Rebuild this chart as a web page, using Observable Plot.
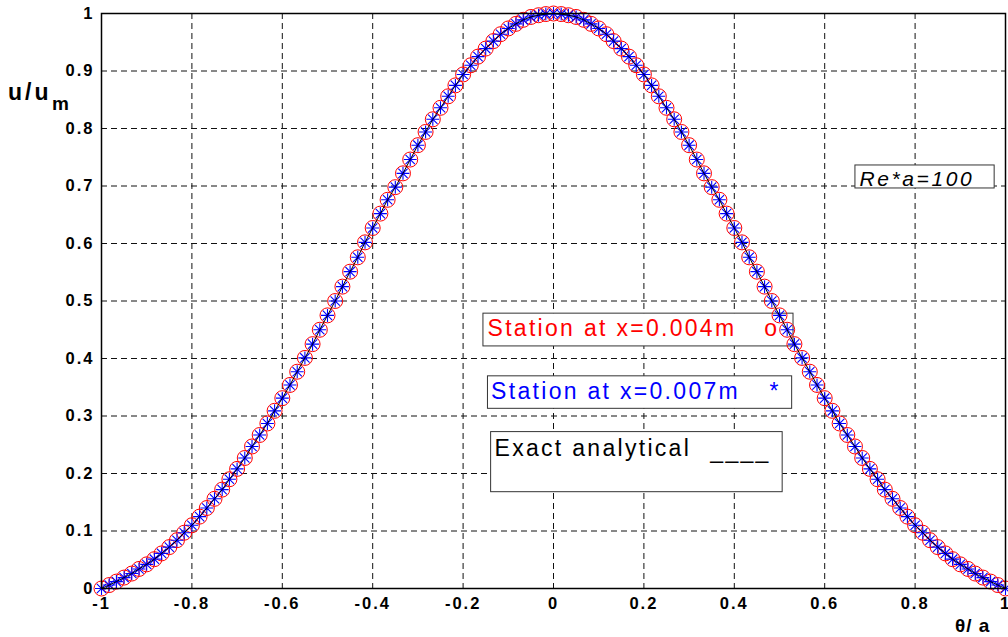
<!DOCTYPE html>
<html>
<head>
<meta charset="utf-8">
<script src="https://cdn.jsdelivr.net/npm/d3@7"></script>
<script src="https://cdn.jsdelivr.net/npm/@observablehq/plot@0.6"></script>
<style>
  body { margin: 0; background: #fff; }
  #chart { width: 1008px; height: 637px; overflow: hidden; }
</style>
</head>
<body>
<div id="chart"></div>
<script>
// θ/a positions of the samples
const theta = [
  -1, -0.983, -0.967, -0.95, -0.933, -0.917, -0.9, -0.883, -0.867, -0.85, -0.833, -0.817,
  -0.8, -0.783, -0.767, -0.75, -0.733, -0.717, -0.7, -0.683, -0.667, -0.65, -0.633, -0.617,
  -0.6, -0.583, -0.567, -0.55, -0.533, -0.517, -0.5, -0.483, -0.467, -0.45, -0.433, -0.417,
  -0.4, -0.383, -0.367, -0.35, -0.333, -0.317, -0.3, -0.283, -0.267, -0.25, -0.233, -0.217,
  -0.2, -0.183, -0.167, -0.15, -0.133, -0.117, -0.1, -0.083, -0.067, -0.05, -0.033, -0.017,
  0,
  0.017, 0.033, 0.05, 0.067, 0.083, 0.1, 0.117, 0.133, 0.15, 0.167, 0.183, 0.2,
  0.217, 0.233, 0.25, 0.267, 0.283, 0.3, 0.317, 0.333, 0.35, 0.367, 0.383, 0.4,
  0.417, 0.433, 0.45, 0.467, 0.483, 0.5, 0.517, 0.533, 0.55, 0.567, 0.583, 0.6,
  0.617, 0.633, 0.65, 0.667, 0.683, 0.7, 0.717, 0.733, 0.75, 0.767, 0.783, 0.8,
  0.817, 0.833, 0.85, 0.867, 0.883, 0.9, 0.917, 0.933, 0.95, 0.967, 0.983, 1
];
// u/u_m (exact analytical; both stations coincide with it)
const uValues = [
  0, 0.006, 0.012, 0.019, 0.026, 0.034, 0.042, 0.051, 0.061, 0.072, 0.084, 0.097,
  0.110, 0.125, 0.140, 0.156, 0.172, 0.190, 0.208, 0.227, 0.247, 0.267, 0.287, 0.309,
  0.331, 0.354, 0.377, 0.401, 0.425, 0.450, 0.475, 0.500, 0.525, 0.551, 0.576, 0.602,
  0.627, 0.652, 0.676, 0.698, 0.722, 0.746, 0.771, 0.794, 0.816, 0.836, 0.856, 0.875,
  0.894, 0.910, 0.925, 0.939, 0.952, 0.964, 0.974, 0.982, 0.989, 0.994, 0.997, 0.999,
  1.0,
  0.999, 0.997, 0.994, 0.989, 0.982, 0.974, 0.964, 0.952, 0.939, 0.925, 0.910, 0.894,
  0.875, 0.856, 0.836, 0.816, 0.794, 0.771, 0.746, 0.722, 0.698, 0.676, 0.652, 0.627,
  0.602, 0.576, 0.551, 0.525, 0.500, 0.475, 0.450, 0.425, 0.401, 0.377, 0.354, 0.331,
  0.309, 0.287, 0.267, 0.247, 0.227, 0.208, 0.190, 0.172, 0.156, 0.140, 0.125, 0.110,
  0.097, 0.084, 0.072, 0.061, 0.051, 0.042, 0.034, 0.026, 0.019, 0.012, 0.006, 0
];
const xTicks = [-1, -0.8, -0.6, -0.4, -0.2, 0, 0.2, 0.4, 0.6, 0.8, 1];
const xTickLabels = ["-1", "-0.8", "-0.6", "-0.4", "-0.2", "0", "0.2", "0.4", "0.6", "0.8", "1"];
const yTicks = [0, 0.1, 0.2, 0.3, 0.4, 0.5, 0.6, 0.7, 0.8, 0.9, 1];
const yTickLabels = ["0", "0.1", "0.2", "0.3", "0.4", "0.5", "0.6", "0.7", "0.8", "0.9", "1"];
const legendTexts = ["Station at x=0.004m", "Station at x=0.007m", "Exact analytical"];
const legendSymbols = ["o", "*", "____"];
const noteText = "Re*a=100";

const data = theta.map((t, i) => ({t, u: uValues[i]}));

// MATLAB-like 8-armed asterisk
const asterisk8 = {
  draw(ctx, size) {
    const r = Math.sqrt(size / Math.PI);
    const d = r * 0.72;
    ctx.moveTo(-r, 0); ctx.lineTo(r, 0);
    ctx.moveTo(0, -r); ctx.lineTo(0, r);
    ctx.moveTo(-d, -d); ctx.lineTo(d, d);
    ctx.moveTo(-d, d); ctx.lineTo(d, -d);
  }
};

// annotation boxes (data coordinates)
const boxes = [
  {x1: -0.155, x2: 0.531, y1: 0.421, y2: 0.478},
  {x1: -0.145, x2: 0.528, y1: 0.3125, y2: 0.369},
  {x1: -0.138, x2: 0.507, y1: 0.1675, y2: 0.272},
  {x1: 0.668, x2: 0.976, y1: 0.6957, y2: 0.7357}
];
const legendRows = [
  {x: -0.146, y: 0.452, sx: 0.466, sy: 0.452, color: "#ff0000"},
  {x: -0.138, y: 0.3416, sx: 0.478, sy: 0.3416, color: "#0000ff"},
  {x: -0.1305, y: 0.244, sx: 0.347, sy: 0.239, color: "#000000"}
].map((d, i) => ({...d, label: legendTexts[i], sym: legendSymbols[i]}));

const plot = Plot.plot({
  width: 1008,
  height: 637,
  marginLeft: 101,
  marginRight: 3,
  marginTop: 13,
  marginBottom: 49,
  x: {domain: [-1, 1]},
  y: {domain: [0, 1]},
  style: {fontFamily: "'Liberation Sans', Arial, sans-serif", background: "#fff", overflow: "visible"},
  marks: [
    Plot.ruleX(xTicks.slice(1, -1), {stroke: "#111", strokeWidth: 1, strokeDasharray: "6,4"}),
    Plot.ruleY(yTicks.slice(1, -1), {stroke: "#111", strokeWidth: 1, strokeDasharray: "6,4"}),
    Plot.rect(boxes, {x1: "x1", x2: "x2", y1: "y1", y2: "y2", fill: "#fff", stroke: "#333", strokeWidth: 1}),
    Plot.text(legendRows, {x: "x", y: "y", text: "label", fill: "color", textAnchor: "start", lineAnchor: "middle", fontSize: 23}),
    Plot.text(legendRows, {x: "sx", y: "sy", text: "sym", fill: "color", textAnchor: "start", lineAnchor: "middle", fontSize: 23}),
    Plot.text([noteText], {x: 0.677, y: 0.7125, text: d => d, textAnchor: "start", lineAnchor: "middle", fontSize: 21, fontStyle: "italic", fill: "#000"}),
    Plot.dot(data, {x: "t", y: "u", r: 7.5, stroke: "#ff0000", strokeWidth: 1, fill: "none"}),
    Plot.dot(data, {x: "t", y: "u", r: 6.5, symbol: asterisk8, stroke: "#0000ff", strokeWidth: 1.1, fill: "none"}),
    Plot.line(data, {x: "t", y: "u", stroke: "#000", strokeWidth: 1}),
    Plot.frame({stroke: "#000", strokeWidth: 1.5}),
    Plot.axisX(xTicks, {tickSize: 0, tickPadding: 9, label: null, fontSize: 16, fontWeight: "bold", fill: "#000",
      tickFormat: d => xTickLabels[xTicks.indexOf(d)]}),
    Plot.axisY(yTicks, {tickSize: 0, tickPadding: 7, label: null, fontSize: 16, fontWeight: "bold", fill: "#000",
      tickFormat: d => yTickLabels[yTicks.indexOf(d)]})
  ]
});

document.getElementById("chart").appendChild(plot);
const svg = d3.select(plot);
svg.selectAll("text").each(function() {
  const t = this.textContent;
  const inAxis = this.closest('[aria-label$="tick label"]');
  const sel = d3.select(this);
  if (inAxis) {
    sel.style("letter-spacing", "2px").style("font-size", "16.5px").style("font-weight", "bold");
  } else if (legendTexts.includes(t) || legendSymbols.includes(t)) {
    sel.style("letter-spacing", "2.3px");
  } else if (t === noteText) {
    sel.style("letter-spacing", "2.6px");
  }
});

// y-axis label u/u_m
const yl = svg.append("text")
  .attr("text-anchor", "start")
  .attr("font-family", "'Liberation Sans', Arial, sans-serif")
  .attr("font-weight", "bold")
  .attr("fill", "#000");
yl.append("tspan").attr("x", 8).attr("y", 100).style("font-size", "23px").style("letter-spacing", "3px").text("u/u");
yl.append("tspan").attr("x", 52).attr("y", 110).style("font-size", "19px").text("m");

// x-axis label θ/a
svg.append("text")
  .attr("x", 955).attr("y", 632)
  .attr("text-anchor", "start")
  .attr("font-family", "'Liberation Sans', Arial, sans-serif")
  .attr("font-weight", "bold")
  .style("font-size", "19px")
  .style("letter-spacing", "1px")
  .attr("fill", "#000")
  .text("θ/ a");
</script>
</body>
</html>
